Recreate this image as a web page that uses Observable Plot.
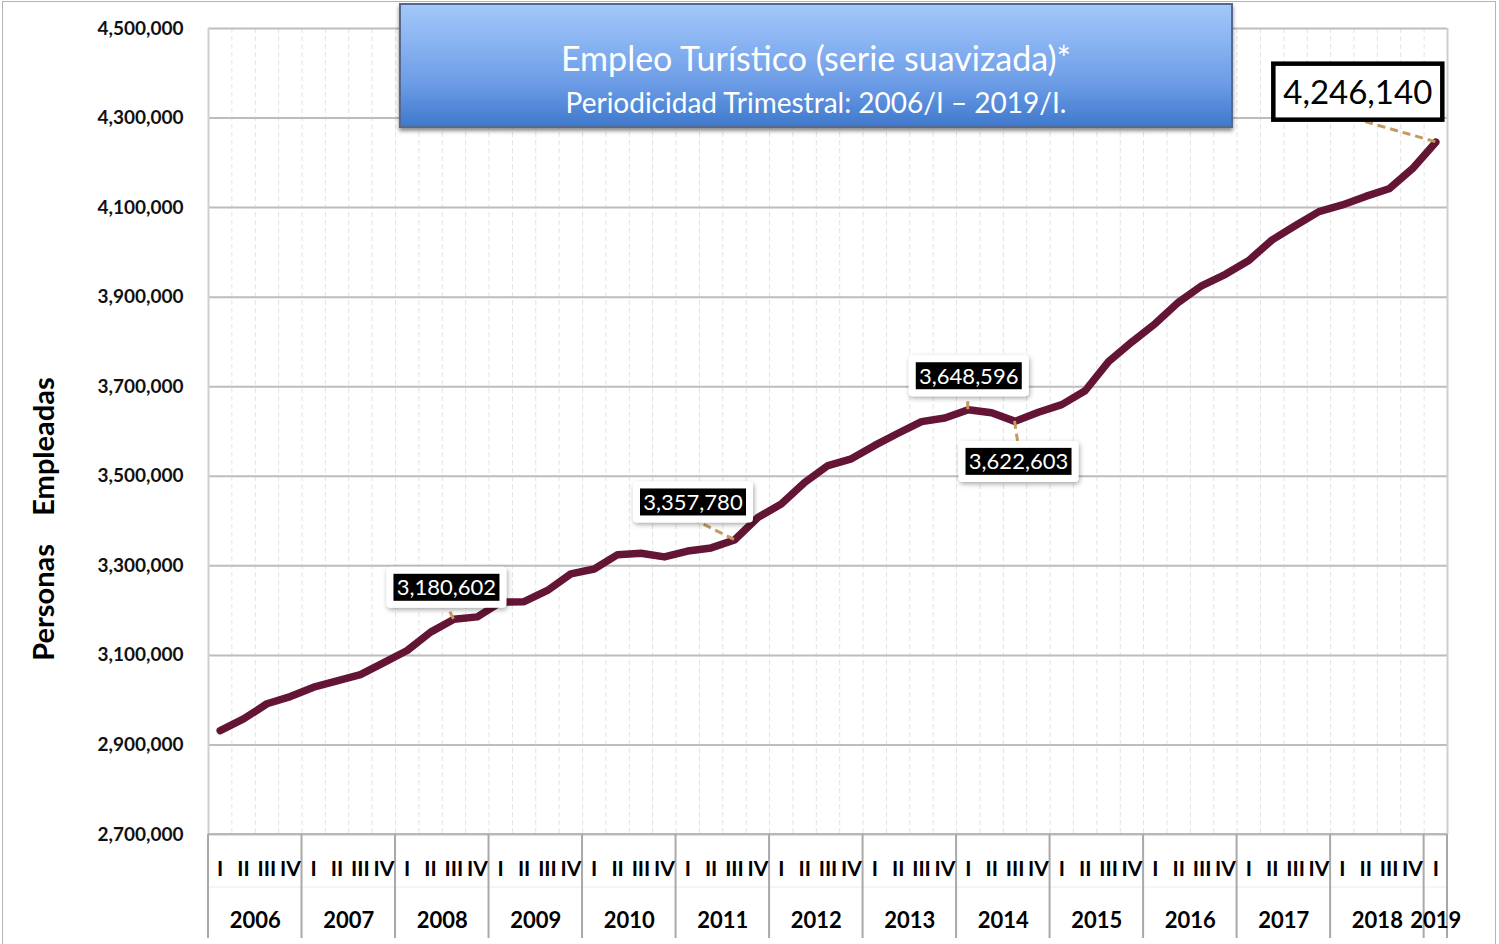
<!DOCTYPE html>
<html>
<head>
<meta charset="utf-8">
<script src="https://cdn.jsdelivr.net/npm/d3@7"></script>
<script src="https://cdn.jsdelivr.net/npm/@observablehq/plot@0.6"></script>
<style>
  html, body { margin: 0; padding: 0; background: #fff; overflow: hidden; }
  #wrap { position: relative; width: 1499px; height: 944px; font-family: Lato, "Open Sans", sans-serif; }
  #chart { position: absolute; left: 0; top: 0; }
  #frame { position: absolute; left: 2px; top: 1px; width: 1494px; height: 1000px; border: 1.5px solid #b4b4b4; box-sizing: border-box; pointer-events: none; }
  #title { position: absolute; left: 399px; top: 3px; width: 834px; height: 125px; box-sizing: border-box;
           border: 2px solid #56698c;
           background: linear-gradient(to bottom, #a3c7f9 0%, #8ab4f2 30%, #6c9ce6 65%, #3f79cc 100%);
           box-shadow: 0 3px 4px rgba(0,0,0,0.45); color: #fff; text-align: center; }
  #title .t1 { position: absolute; left: 0; right: 0; top: 33px; line-height: 40px; font-size: 34px; }
  #title .t2 { position: absolute; left: 0; right: 0; top: 80px; line-height: 34px; font-size: 28px; }
  #ytitle { position: absolute; left: 43px; top: 519px; transform: translate(-50%, -50%) rotate(-90deg);
            white-space: pre; font-size: 29px; font-weight: bold; color: #000; line-height: 34px; }
</style>
</head>
<body>
<div id="wrap">
  <div id="chart"></div>
  <div id="frame"></div>
  <div id="ytitle"></div>
  <div id="title">
    <div class="t1">Empleo Turístico (serie suavizada)*</div>
    <div class="t2">Periodicidad Trimestral: 2006/I – 2019/I.</div>
  </div>
</div>
<script>
// ---------- data ----------
const years = [2006, 2007, 2008, 2009, 2010, 2011, 2012, 2013, 2014, 2015, 2016, 2017, 2018, 2019];
const quarterNames = ["I", "II", "III", "IV"];
const empleo = [
  2932000, 2958000, 2992000, 3008000,   // 2006
  3029000, 3043000, 3057000, 3084000,   // 2007
  3111000, 3152000, 3180602, 3186000,   // 2008
  3219000, 3220000, 3245000, 3282000,   // 2009
  3293000, 3325000, 3328000, 3320000,   // 2010
  3333000, 3340000, 3357780, 3408000,   // 2011
  3438000, 3486000, 3524000, 3539000,   // 2012
  3569000, 3596000, 3622000, 3630000,   // 2013
  3648596, 3642000, 3622603, 3643000,   // 2014
  3660000, 3691000, 3756000, 3800000,   // 2015
  3841000, 3889000, 3926000, 3951000,   // 2016
  3982000, 4028000, 4060000, 4091000,   // 2017
  4106000, 4125000, 4142000, 4187000,   // 2018
  4246140                               // 2019
];
const yTicks = [2700000, 2900000, 3100000, 3300000, 3500000, 3700000, 3900000, 4100000, 4300000, 4500000];
const labeledQuarters = [10, 22, 32, 34, 52];
const yTitle = "Personas\u00a0\u00a0\u00a0\u00a0Empleadas";

document.getElementById("ytitle").textContent = yTitle;

// ---------- derived tables ----------
const data = empleo.map((v, i) => ({ i, v, year: years[Math.floor(i / 4)], q: quarterNames[i % 4] }));
const yearTable = years.map(y => {
  const idx = data.filter(d => d.year === y).map(d => d.i);
  return { year: y, center: d3.mean(idx), start: d3.min(idx) - 0.5, end: d3.max(idx) + 0.5 };
});
const yearBounds = Array.from(new Set(yearTable.flatMap(d => [d.start, d.end])));
const quarterBounds = data.slice(0, -1).map(d => d.i + 0.5);
const xDomain = [-0.5, data.length - 0.5];

// annotation layout (pixel offsets relative to the data point)
const annLayout = {
  10: { bx: -67, by: -52, w: 120, h: 41, lx: -6, ly: -12 },
  22: { bx: -101, by: -58, w: 120, h: 41, lx: -36, ly: -18 },
  32: { bx: -59, by: -54, w: 120, h: 41, lx: 0, ly: -13 },
  34: { bx: -56, by: 20, w: 120, h: 41, lx: 3, ly: 20 },
  52: { bx: -162, by: -78, w: 169, h: 56, lx: -77, ly: -22, big: true }
};

const fmt = d3.format(",");
const FONT = "Lato, 'Open Sans', sans-serif";

function axisTable(index, scales) {
  const { x, y } = scales;
  const g = d3.create("svg:g");
  const y0 = y(yTicks[0]);
  g.append("line").attr("x1", x(xDomain[0])).attr("x2", x(xDomain[1]))
    .attr("y1", y0 + 53).attr("y2", y0 + 53).attr("stroke", "#ececec").attr("stroke-width", 1);
  g.append("line").attr("x1", x(xDomain[0])).attr("x2", x(xDomain[1]))
    .attr("y1", y0).attr("y2", y0).attr("stroke", "#b8b8b8").attr("stroke-width", 2);
  for (const b of yearBounds) {
    g.append("line").attr("x1", x(b)).attr("x2", x(b)).attr("y1", y0).attr("y2", y0 + 104)
      .attr("stroke", "#a9a9a9").attr("stroke-width", 2);
  }
  return g.node();
}

function annotations(index, scales) {
  const { x, y } = scales;
  const g = d3.create("svg:g");
  const defs = g.append("defs");
  const f = defs.append("filter").attr("id", "shadow").attr("x", "-20%").attr("y", "-30%").attr("width", "150%").attr("height", "180%");
  f.append("feDropShadow").attr("dx", 1).attr("dy", 2).attr("stdDeviation", 2.5).attr("flood-color", "#000").attr("flood-opacity", 0.35);
  for (const i of labeledQuarters) {
    const d = data[i];
    const L = annLayout[i];
    const px = x(d.i), py = y(d.v);
    g.append("line").attr("x1", px).attr("y1", py).attr("x2", px + L.lx).attr("y2", py + L.ly)
      .attr("stroke", "#c39a5f").attr("stroke-width", 3).attr("stroke-dasharray", "8,5");
    if (L.big) {
      g.append("rect").attr("x", px + L.bx).attr("y", py + L.by).attr("width", L.w).attr("height", L.h)
        .attr("fill", "#fff").attr("stroke", "#000").attr("stroke-width", 4.5);
      g.append("text").attr("x", px + L.bx + L.w / 2).attr("y", py + L.by + L.h / 2).attr("dy", "0.36em")
        .attr("text-anchor", "middle").attr("font-family", FONT).attr("font-size", 33).attr("fill", "#000")
        .text(fmt(d.v));
    } else {
      g.append("rect").attr("x", px + L.bx).attr("y", py + L.by).attr("width", L.w).attr("height", L.h)
        .attr("rx", 4).attr("fill", "#fff").attr("filter", "url(#shadow)");
      g.append("rect").attr("x", px + L.bx + 7).attr("y", py + L.by + 7).attr("width", L.w - 14).attr("height", L.h - 14)
        .attr("fill", "#000");
      g.append("text").attr("x", px + L.bx + L.w / 2).attr("y", py + L.by + L.h / 2).attr("dy", "0.36em")
        .attr("text-anchor", "middle").attr("font-family", FONT).attr("font-size", 22).attr("fill", "#fff")
        .text(fmt(d.v));
    }
  }
  return g.node();
}

const chart = Plot.plot({
  width: 1499,
  height: 944,
  marginLeft: 208,
  marginRight: 52,
  marginTop: 28,
  marginBottom: 110,
  style: { fontFamily: FONT, background: "transparent", overflow: "visible" },
  x: { type: "linear", domain: xDomain, axis: null },
  y: { type: "linear", domain: [yTicks[0], yTicks[yTicks.length - 1]], axis: null },
  marks: [
    Plot.ruleX(quarterBounds, { stroke: "#e2e2e2", strokeWidth: 1, strokeDasharray: "5,3" }),
    Plot.ruleY(yTicks, { stroke: "#bdbdbd", strokeWidth: 2 }),
    Plot.ruleX(xDomain, { stroke: "#cfcfcf", strokeWidth: 2 }),
    axisTable,
    Plot.text(yTicks, { y: d => d, text: d => fmt(d), frameAnchor: "left", textAnchor: "end", dx: -25,
      fontSize: 19, fontWeight: "bold", fill: "#111" }),
    Plot.text(data, { x: "i", text: "q", frameAnchor: "bottom", dy: 41, fontSize: 21, fontWeight: "bold", fill: "#000" }),
    Plot.text(yearTable, { x: "center", text: d => String(d.year), frameAnchor: "bottom", dy: 93,
      fontSize: 22, fontWeight: "bold", fill: "#000" }),
    Plot.line(data, { x: "i", y: "v", stroke: "#641434", strokeWidth: 7.5, strokeLinejoin: "round", strokeLinecap: "round" }),
    annotations
  ]
});
document.getElementById("chart").appendChild(chart);
</script>
</body>
</html>
